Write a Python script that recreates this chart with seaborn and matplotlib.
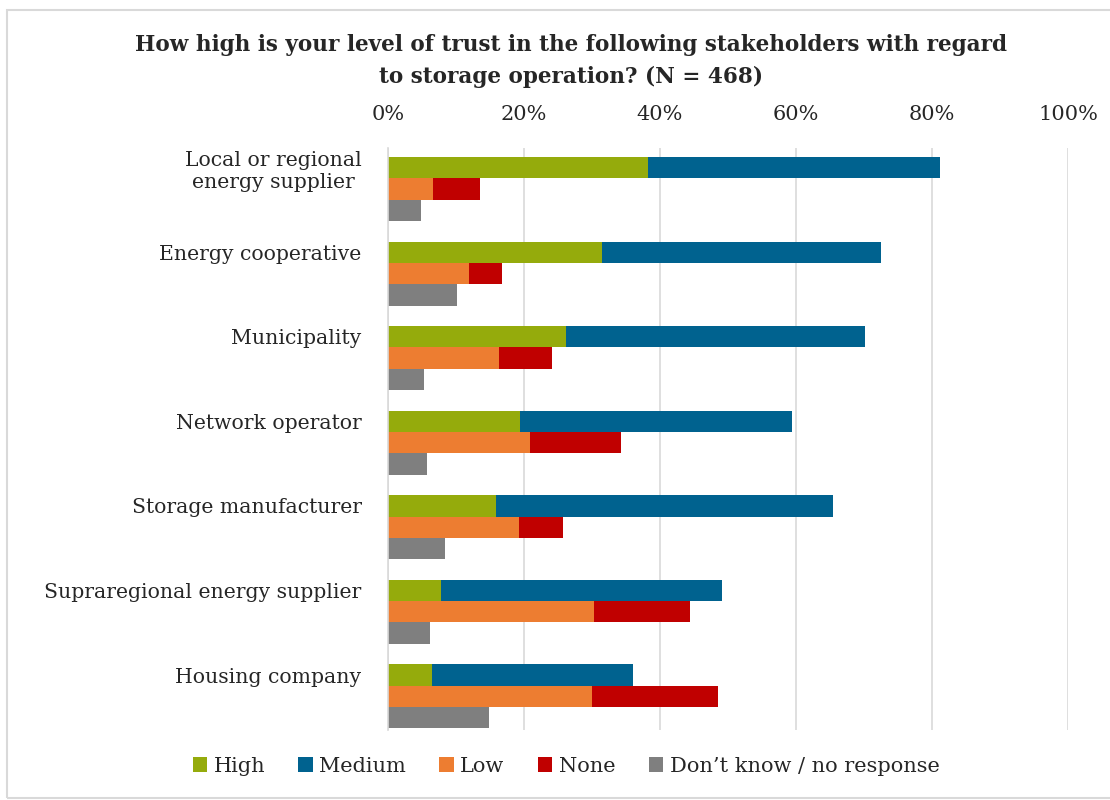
import matplotlib
matplotlib.use("Agg")
import matplotlib.pyplot as plt
from matplotlib.patches import Patch, Rectangle
import numpy as np
import pandas as pd
import seaborn as sns

# Survey results (percent of respondents, N = 468)
stakeholders = [
    "Local or regional\nenergy supplier ",
    "Energy cooperative",
    "Municipality",
    "Network operator",
    "Storage manufacturer",
    "Supraregional energy supplier",
    "Housing company",
]
high = [38.2, 31.5, 26.2, 19.4, 15.9, 7.8, 6.5]
medium = [43.0, 41.0, 43.9, 40.0, 49.5, 41.3, 29.5]
low = [6.6, 11.9, 16.3, 20.9, 19.3, 30.3, 30.0]
none = [6.9, 4.9, 7.8, 13.4, 6.4, 14.1, 18.5]
dont_know = [4.9, 10.1, 5.3, 5.7, 8.4, 6.2, 14.9]

series_names = ["High", "Medium", "Low", "None", "Don\u2019t know / no response"]
colors = {
    "High": "#95AB0C",
    "Medium": "#00628F",
    "Low": "#ED7D31",
    "None": "#C00000",
    "Don\u2019t know / no response": "#7F7F7F",
}
tick_values = [0, 20, 40, 60, 80, 100]
tick_labels = [f"{v}%" for v in tick_values]
title = ("How high is your level of trust in the following stakeholders with regard\n"
         "to storage operation? (N = 468)")

sns.set_theme(style="white")
plt.rcParams["font.family"] = ["DejaVu Serif"]

row_h = 0.252
pos = np.arange(len(stakeholders), dtype=float)
df = pd.DataFrame({
    "stakeholder": stakeholders,
    "pos": pos,
    "high": high,
    "high_medium": np.add(high, medium),
    "low": low,
    "low_none": np.add(low, none),
    "dont_know": dont_know,
})

fig = plt.figure(figsize=(11.1, 8.0), dpi=100)
ax = fig.add_axes([388 / 1110, 1 - 730 / 800, 680 / 1110, 582 / 800])

# Stacked rows: totals drawn first, first segment drawn over them
layers = [
    ("high_medium", 0.0, colors["Medium"]),
    ("high", 0.0, colors["High"]),
    ("low_none", row_h, colors["None"]),
    ("low", row_h, colors["Low"]),
    ("dont_know", 2 * row_h, colors["Don\u2019t know / no response"]),
]
for col, offset, color in layers:
    sns.barplot(
        x=df[col], y=df["pos"] + offset, orient="y", native_scale=True,
        width=row_h, color=color, saturation=1, edgecolor="none",
        linewidth=0, ax=ax, errorbar=None,
    )

text_color = "#262626"
ax.set_xlim(0, 100)
ax.set_ylim(6.65, -0.233)
ax.set_xticks(tick_values)
ax.set_xticklabels(tick_labels, fontsize=15, color=text_color)
ax.xaxis.tick_top()
ax.tick_params(axis="x", length=0, pad=17)
ax.set_yticks(pos)
ax.set_yticklabels(stakeholders, fontsize=14.7, color=text_color)
ax.tick_params(axis="y", length=0, pad=19)
ax.set_xlabel("")
ax.set_ylabel("")

ax.grid(axis="x", color="#D9D9D9", linewidth=1.2)
ax.set_axisbelow(True)
for side in ["top", "right", "bottom"]:
    ax.spines[side].set_visible(False)
ax.spines["left"].set_color("#D9D9D9")
ax.spines["left"].set_linewidth(1.2)
ax.spines["left"].set_zorder(3)

fig.text(571 / 1110, 1 - 61 / 800, title, ha="center", va="center",
         fontsize=15.5, fontweight="bold", color=text_color, linespacing=1.6)

handles = [Patch(facecolor=colors[n], edgecolor="none") for n in series_names]
fig.legend(handles, series_names, loc="center", ncol=5,
           bbox_to_anchor=(566 / 1110, 1 - 766 / 800), frameon=False,
           fontsize=15, handlelength=0.7, handleheight=0.7,
           handletextpad=0.3, columnspacing=1.6, labelcolor=text_color)

fig.add_artist(Rectangle((7 / 1110, 2 / 800), 1.2, 788 / 800,
                         transform=fig.transFigure, fill=False,
                         edgecolor="#D9D9D9", linewidth=1.5))

fig.savefig("out.png", dpi=100)
